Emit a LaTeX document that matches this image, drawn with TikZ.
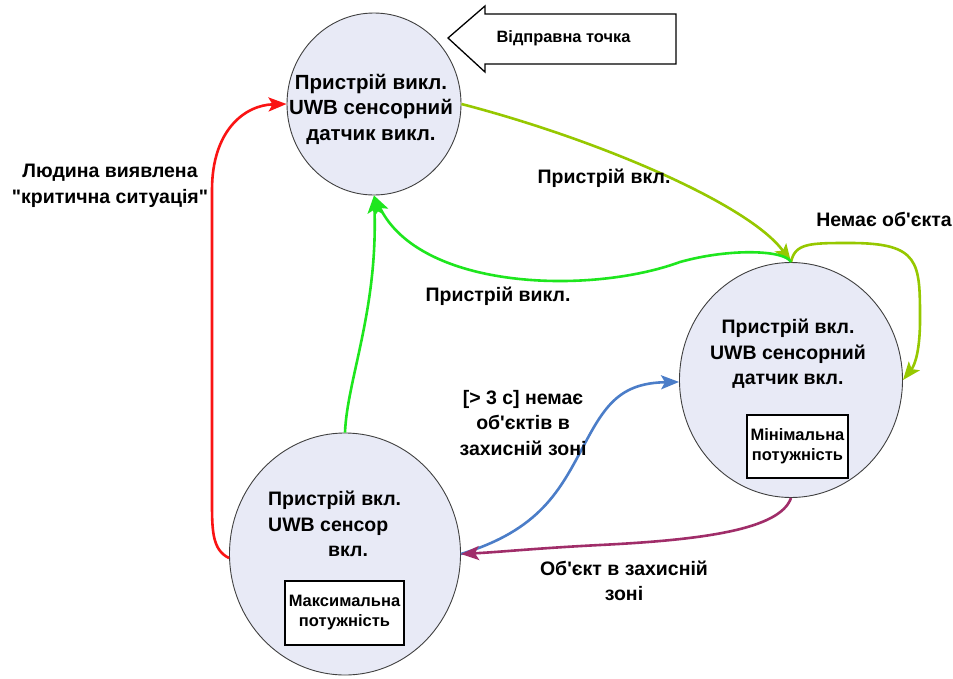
\documentclass[tikz,border=0pt]{standalone}
\usepackage{fontspec}
\setmainfont{Liberation Sans}[Ligatures=TeXOff]
\usetikzlibrary{shapes.geometric,arrows.meta,calc}
\definecolor{cfill}{RGB}{232,234,246}
\definecolor{ygreen}{RGB}{150,200,0}
\definecolor{bgreen}{RGB}{30,230,30}
\definecolor{cred}{RGB}{250,20,20}
\definecolor{cblue}{RGB}{75,125,200}
\definecolor{cpurple}{RGB}{160,45,105}
\begin{document}
\begin{tikzpicture}[x=1pt,y=-1pt,
  state/.style={ellipse, draw=black!75, line width=0.9pt, fill=cfill, inner sep=0pt},
  lbl/.style={font=\fontsize{19.5}{25.5}\selectfont\bfseries, align=center, inner sep=0pt},
  big/.style={font=\fontsize{20.5}{25.5}\selectfont\bfseries, align=center, inner sep=0pt},
  small/.style={font=\fontsize{16.5}{20}\selectfont\bfseries, align=center, inner sep=0pt},
  pbox/.style={draw=black, line width=1.2pt, fill=white, inner sep=0pt},
  conn/.style={line width=2.6pt, -{Stealth[length=18pt,width=14pt,inset=4pt]}},
]
\useasboundingbox[fill=white] (0,0) rectangle (953,678);

% start arrow
\draw[line width=1.3pt, fill=white] (448,38) -- (485,6) -- (485,14) -- (676,14) -- (676,64) -- (485,64) -- (485,72) -- cycle;
\node[font=\fontsize{16.4}{20}\selectfont\bfseries, inner sep=0pt] (start) at (563.5,38.5) {Відправна точка};

% states
\node[state, minimum width=174pt, minimum height=182pt] (top) at (374,104) {};
\node[state, minimum width=223pt, minimum height=235pt] (right) at (791,380) {};
\node[state, minimum width=231pt, minimum height=242pt] (bot) at (345,554) {};

\node[big] (toptxt) at (371,109) {Пристрій викл.\\UWB сенсорний\\датчик викл.};
\node[lbl] (righttxt) at (788,354) {Пристрій вкл.\\UWB сенсорний\\датчик вкл.};
\node[lbl, align=left, anchor=west] (bottxt) at (268,524) {Пристрій вкл.\\UWB сенсор\\\hspace*{60pt}вкл.};

\node[pbox, small, minimum width=101pt, minimum height=63pt] (minbox) at (797.5,446.5) {Мінімальна\\потужність};
\node[pbox, small, minimum width=119pt, minimum height=64pt] (maxbox) at (344.5,613) {Максимальна\\потужність};

% connectors
\draw[conn, ygreen] (top.east) .. controls (600,140) and (750,205) .. (right.north);
\draw[conn, ygreen] (right.north) .. controls (795,243) and (810,243) .. (850,243)
   .. controls (920,243) and (920,262) .. (920,320)
   .. controls (920,350) and (915,365) .. (right.east);
\draw[conn, bgreen] (right.north) .. controls (785,250) and (730,248) .. (680,262)
   .. controls (590,295) and (420,290) .. (top.south);
\draw[conn, bgreen] (bot.north) .. controls (347,380) and (378,310) .. (top.south);
\draw[conn, cred] (bot.182) .. controls (212,550) and (212,530) .. (212,500) -- (212,190)
   .. controls (212,130) and (245,105) .. (top.west);
\draw[conn, cblue] (bot.east) .. controls (540,530) and (560,490) .. (583,447)
   .. controls (605,405) and (620,383) .. (right.181);
\draw[conn, cpurple] (right.south) .. controls (780,530) and (700,540) .. (600,545)
   .. controls (540,548) and (500,552) .. (bot.east);

% labels
\node[lbl] (l1) at (604,178) {Пристрій вкл.};
\node[lbl] (l2) at (498,296) {Пристрій викл.};
\node[lbl] (l3) at (884,219.5) {Немає об'єкта};
\node[lbl] (l4) at (110,185.7) {Людина виявлена\\"критична ситуація"};
\node[lbl] (l5) at (523,423) {[> 3 с] немає\\об'єктів в\\захисній зоні};
\node[lbl] (l6) at (624,581) {Об'єкт в захисній\\зоні};
\end{tikzpicture}
\end{document}
